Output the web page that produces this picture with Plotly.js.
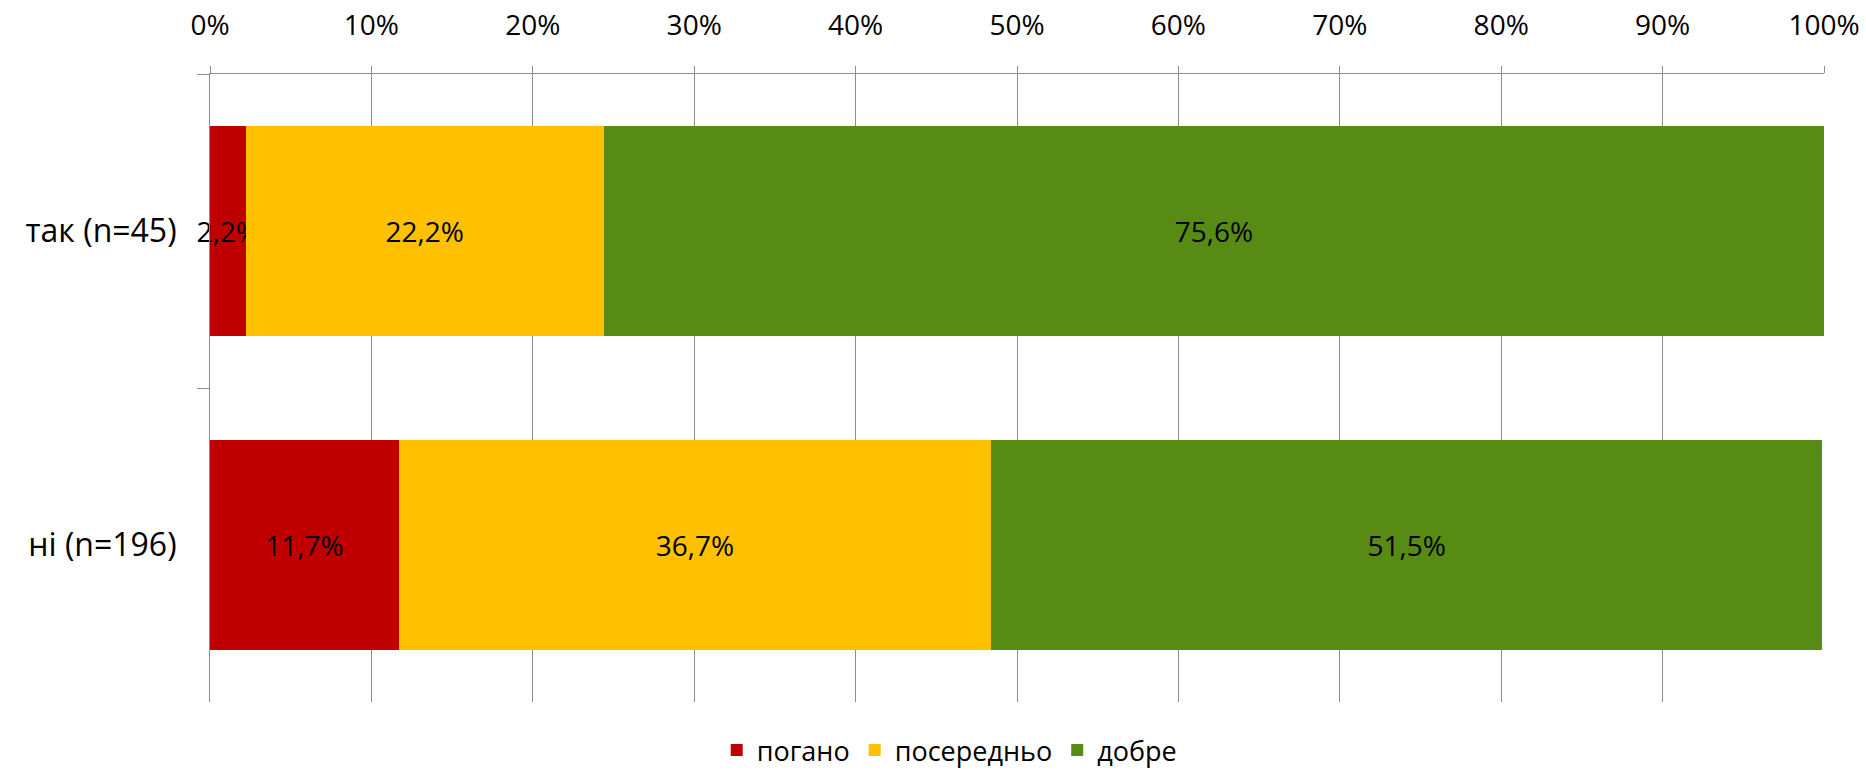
<!DOCTYPE html>
<html>
<head>
<meta charset="utf-8">
<script src="https://cdn.plot.ly/plotly-3.0.1.min.js"></script>
<style>html,body{margin:0;padding:0;background:#fff;}#chart{width:1866px;height:775px;}</style>
</head>
<body>
<div id="chart"></div>
<script>
const categories = ["так (n=45)", "ні (n=196)"];
const seriesNames = ["погано", "посередньо", "добре"];
const poganoValues = [2.2, 11.7];
const poserednoValues = [22.2, 36.7];
const dobreValues = [75.6, 51.5];
const seriesColors = ["#C00000", "#FFC000", "#588B14"];
const tickValues = [0, 10, 20, 30, 40, 50, 60, 70, 80, 90, 100];
const tickLabels = ["0%", "10%", "20%", "30%", "40%", "50%", "60%", "70%", "80%", "90%", "100%"];

const allValues = [poganoValues, poserednoValues, dobreValues];
const fmt = v => v.toFixed(1).replace('.', ',') + '%';
const FONT = "Open Sans, Lato, sans-serif";

const traces = allValues.map((vals, i) => ({
  type: 'bar',
  orientation: 'h',
  name: seriesNames[i],
  y: categories,
  x: vals,
  marker: {color: seriesColors[i], line: {width: 0}},
  text: vals.map(fmt),
  textposition: 'inside',
  insidetextanchor: 'middle',
  textangle: 0,
  constraintext: 'none',
  cliponaxis: false,
  textfont: {family: FONT, size: 28, color: '#000'},
  hoverinfo: 'none'
}));

const layout = {
  width: 1866, height: 775,
  margin: {l: 210, r: 42, t: 74, b: 73, autoexpand: false},
  barmode: 'stack',
  bargap: 0.333,
  paper_bgcolor: '#fff', plot_bgcolor: '#fff',
  font: {family: FONT, color: '#000'},
  showlegend: true,
  legend: {
    orientation: 'h', x: 0.458, xanchor: 'center',
    yref: 'container', y: 0.0, yanchor: 'bottom',
    bgcolor: 'rgba(0,0,0,0)', borderwidth: 0,
    font: {family: FONT, size: 27, color: '#000'}, traceorder: 'normal',
    itemwidth: 30
  },
  xaxis: {
    side: 'top', range: [0, 100], tickvals: tickValues, ticktext: tickLabels,
    showgrid: true, gridcolor: '#8C8C8C', gridwidth: 1,
    showline: true, linecolor: '#8C8C8C', linewidth: 1,
    ticks: 'outside', ticklen: 7, tickcolor: '#8C8C8C',
    ticklabelstandoff: 20,
    tickfont: {family: FONT, size: 28, color: '#000'},
    zeroline: false, fixedrange: true
  },
  yaxis: {
    type: 'category', autorange: 'reversed',
    showline: true, linecolor: '#8C8C8C', linewidth: 1,
    ticks: 'outside', ticklen: 12, tickcolor: '#8C8C8C', tickson: 'boundaries',
    showgrid: false, ticklabelstandoff: 26,
    tickfont: {family: FONT, size: 32, color: '#000'},
    fixedrange: true
  }
};

Plotly.newPlot('chart', traces, layout, {displayModeBar: false, staticPlot: true});
</script>
</body>
</html>
